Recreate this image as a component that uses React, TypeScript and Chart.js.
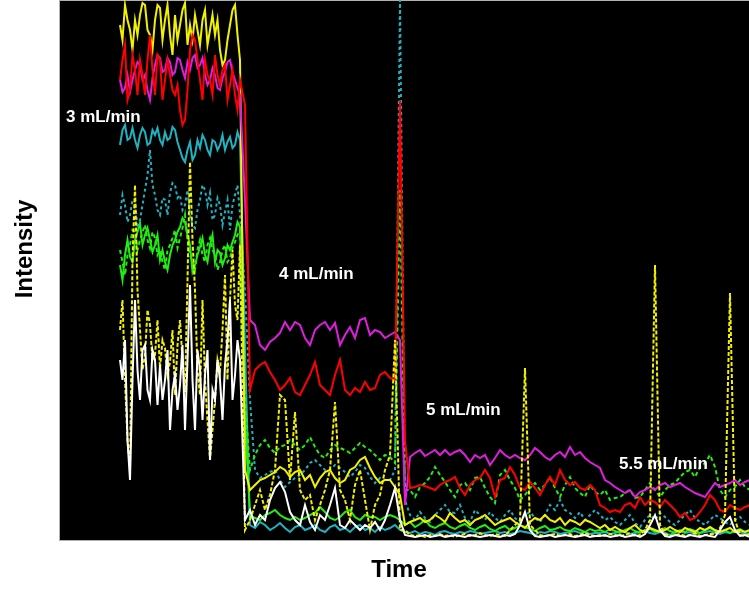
import React, { useEffect, useRef } from "react";
import { Chart, registerables } from "chart.js";

Chart.register(...registerables);

// Time axis (arbitrary units); the first period is sampled twice as finely
const time = [
  12, 12.5, 13, 13.5, 14, 14.5, 15, 15.5, 16, 16.5, 17, 17.5, 18, 18.5, 19, 19.5, 20, 20.5, 21, 21.5,
  22, 22.5, 23, 23.5, 24, 24.5, 25, 25.5, 26, 26.5, 27, 27.5, 28, 28.5, 29, 29.5, 30, 30.5, 31, 31.5,
  32, 32.5, 33, 33.5, 34, 34.5, 35, 35.5, 36,
  37, 38, 39, 40, 41, 42, 43, 44, 45, 46, 47, 48, 49, 50, 51,
  52, 53, 54, 55, 56, 57, 58, 59, 60, 61, 62, 63, 64, 65, 66, 67, 68, 69, 70, 71,
  72, 73, 74, 75, 76, 77, 78, 79, 80, 81, 82, 83, 84, 85, 86, 87, 88, 89, 90, 91,
  92, 93, 94, 95, 96, 97, 98, 99, 100, 101, 102, 103, 104, 105, 106, 107, 108, 109, 110, 111,
  112, 113, 114, 115, 116, 117, 118, 119, 120, 121, 122, 123, 124, 125, 126, 127, 128, 129, 130, 131,
  132, 133, 134, 135, 136, 137, 138,
];

// Intensity series (a.u.)
const yellowSolid = [
  515, 500, 535, 520, 510, 490, 520, 505, 525, 537, 535, 510, 505, 490, 520, 535, 532, 500, 520, 535, 505, 485, 525, 500, 515,
  530, 537, 495, 515, 500, 525, 510, 495, 520, 530, 495, 510, 525, 505, 520, 490, 475, 480, 500, 515, 530, 535, 505, 480,
  70,
  50, 55, 60, 62, 65, 68, 73, 70, 63, 68, 70, 60, 65, 53, 62, 68, 70, 62, 57, 60, 70, 73, 80, 83, 72, 63, 57, 60, 60, 53,
  45,
  15, 18, 20, 22, 18, 20, 25, 22, 18, 27, 22, 18, 20, 15, 20, 22, 25, 20, 15, 18, 20, 22, 18, 15, 12, 18, 22, 20, 25, 20, 18, 22, 15, 20, 18, 15, 20, 18, 15,
  12, 15, 10, 13, 10, 8, 12, 15, 10, 8, 12, 10, 8, 10, 13, 10, 8, 12, 10, 8, 12, 10, 13, 10, 8, 10, 12, 8, 10, 8, 10,
];

const red = [
  460, 480, 495, 440, 450, 485, 470, 445, 480, 465, 445, 480, 505, 470, 445, 485, 480, 440, 460, 480, 465, 450, 445, 455, 430,
  415, 420, 450, 490, 505, 500, 480, 460, 440, 480, 465, 460, 445, 485, 465, 455, 470, 475, 440, 455, 470, 445, 430, 460,
  435,
  150, 170, 175, 178, 168, 160, 150, 155, 162, 148, 145, 155, 165, 178, 155, 150, 145, 165, 180, 150, 145, 152, 148, 158, 150, 152, 165, 168, 162, 160,
  440,
  100, 52, 53, 55, 54, 52, 50, 55, 58, 60, 63, 52, 45, 55, 60, 62, 70, 62, 43, 60, 62, 73, 65, 52, 50, 58, 52, 45, 55, 63, 55, 70, 60, 55, 58, 52, 50, 55, 50,
  35, 32, 28, 30, 28, 35, 37, 32, 43, 35, 40, 38, 33, 40, 35, 30, 23, 27, 20, 22, 28, 35, 45, 40, 30, 28, 35, 32, 30, 33, 35,
];

const magenta = [
  460, 448, 452, 465, 448, 460, 470, 478, 475, 460, 465, 450, 440, 462, 475, 485, 482, 468, 470, 482, 478, 465, 468, 482, 480,
  470, 462, 478, 470, 482, 485, 472, 475, 482, 465, 455, 460, 472, 465, 452, 450, 462, 468, 478, 480, 468, 460, 452, 445,
  340,
  220, 215, 195, 190, 198, 202, 207, 218, 210, 218, 215, 202, 195, 210, 215, 218, 210, 217, 195, 205, 213, 202, 220, 222, 205, 210, 208, 202, 205, 208,
  200,
  35, 83, 87, 90, 84, 87, 90, 85, 90, 85, 88, 90, 85, 78, 85, 82, 85, 75, 82, 90, 85, 82, 85, 82, 80, 85, 92, 88, 83, 80, 85, 88, 83, 93, 85, 88, 82, 78, 75,
  72, 60, 57, 53, 50, 47, 50, 43, 48, 50, 53, 50, 55, 57, 53, 55, 57, 53, 50, 47, 45, 43, 50, 57, 53, 55, 57, 60, 55, 58, 60,
];

const cyanSolid = [
  395, 410, 415, 400, 402, 412, 400, 392, 405, 412, 408, 395, 397, 410, 405, 412, 400, 395, 408, 400, 402, 413, 410, 398, 390,
  382, 378, 390, 398, 380, 385, 400, 392, 405, 400, 390, 385, 400, 398, 390, 395, 405, 390, 398, 403, 392, 395, 408, 400,
  190,
  15, 12, 18, 15, 10, 13, 17, 12, 8, 13, 15, 10, 12, 15, 10, 8, 13, 15, 10, 12, 8, 13, 15, 10, 12, 8, 13, 10, 12, 15,
  10,
  8, 7, 9, 6, 8, 7, 5, 8, 9, 7, 6, 8, 7, 9, 8, 6, 7, 8, 9, 7, 8, 6, 7, 9, 8, 7, 5, 8, 7, 9, 8, 6, 7, 8, 9, 7, 8, 6, 7,
  7, 8, 6, 7, 9, 8, 6, 7, 8, 9, 7, 6, 8, 7, 5, 8, 9, 7, 8, 6, 7, 8, 9, 7, 6, 8, 7, 9, 8, 6, 7,
];

const cyanDashed = [
  325, 345, 335, 318, 325, 340, 340, 312, 320, 335, 350, 365, 390, 355, 345, 330, 325, 342, 340, 325, 347, 357, 355, 342, 345,
  330, 335, 350, 325, 315, 312, 330, 340, 355, 350, 335, 347, 320, 325, 342, 335, 315, 328, 340, 310, 335, 345, 355, 325,
  250,
  140, 70, 62, 65, 68, 70, 60, 53, 58, 62, 65, 70, 77, 80, 75, 70, 70, 75, 72, 68, 63, 68, 75, 72, 63, 57, 62, 60, 60, 70,
  540,
  40, 25, 20, 28, 22, 18, 25, 30, 35, 28, 27, 35, 22, 18, 30, 25, 20, 28, 22, 18, 25, 30, 22, 18, 25, 28, 22, 18, 25, 35, 30, 40, 30, 27, 22, 28, 20, 25, 30,
  25, 20, 23, 18, 15, 20, 25, 17, 13, 20, 25, 20, 27, 23, 18, 15, 20, 25, 30, 22, 18, 15, 20, 25, 22, 18, 15, 20, 23, 18, 15,
];

const greenSolid = [
  275, 260, 285, 300, 283, 278, 300, 308, 317, 295, 305, 312, 300, 288, 295, 305, 280, 290, 278, 270, 285, 295, 300, 308, 313,
  322, 318, 305, 295, 268, 275, 285, 293, 302, 285, 278, 295, 305, 278, 290, 287, 275, 282, 295, 290, 298, 305, 318, 313,
  120,
  25, 22, 20, 25, 27, 30, 25, 22, 20, 23, 20, 22, 25, 27, 33, 28, 22, 20, 23, 28, 30, 23, 20, 25, 23, 23, 20, 23, 25, 23,
  20,
  15, 18, 13, 16, 20, 14, 12, 15, 17, 13, 11, 14, 16, 12, 10, 13, 15, 11, 9, 12, 14, 10, 12, 15, 13, 11, 9, 12, 14, 10, 11, 13, 10, 9, 12, 10, 8, 11, 9,
  10, 8, 11, 9, 7, 10, 12, 9, 7, 10, 11, 8, 10, 12, 9, 7, 10, 8, 11, 9, 7, 10, 12, 9, 8, 10, 7, 9, 11, 8, 10,
];

const greenDashed = [
  290, 278, 265, 285, 295, 310, 308, 290, 300, 308, 315, 300, 292, 308, 302, 285, 290, 278, 270, 290, 295, 302, 310, 292, 302,
  312, 325, 300, 285, 278, 270, 290, 300, 285, 278, 295, 302, 290, 285, 270, 278, 290, 295, 278, 282, 292, 298, 305, 310,
  140,
  70, 85, 95, 100, 92, 87, 93, 95, 100, 95, 90, 95, 103, 93, 85, 82, 90, 95, 92, 90, 87, 92, 97, 93, 90, 85, 80, 85, 83, 77,
  350,
  50, 50, 43, 53, 57, 63, 73, 65, 58, 50, 43, 55, 57, 50, 62, 63, 52, 43, 37, 65, 70, 60, 52, 40, 45, 52, 57, 50, 55, 63, 52, 43, 55, 63, 52, 47, 43, 55, 48,
  45, 50, 40, 42, 43, 47, 50, 42, 43, 50, 57, 50, 43, 50, 55, 57, 63, 68, 70, 63, 73, 77, 85, 73, 50, 43, 50, 53, 60, 53, 50,
];

const yellowDashed = [
  210, 240, 160, 100, 70, 280, 355, 250, 210, 170, 185, 230, 215, 180, 185, 220, 172, 200, 192, 165, 178, 210, 145, 195, 220,
  180, 148, 260, 378, 300, 250, 170, 145, 240, 160, 120, 80, 110, 140, 180, 168, 210, 265, 160, 240, 290, 235, 220, 295,
  10,
  20, 35, 50, 30, 45, 70, 145, 140, 60, 128, 50, 40, 45, 20, 35, 50, 70, 138, 50, 40, 20, 55, 70, 40, 10, 35, 45, 70, 85, 200,
  10,
  10, 5, 4, 5, 3, 5, 4, 6, 4, 5, 3, 5, 6, 4, 5, 7, 5, 4, 6, 5, 4, 10, 15, 20, 172, 15, 10, 5, 4, 5, 6, 4, 5, 6, 4, 5, 7, 5, 4,
  5, 4, 6, 5, 4, 5, 7, 4, 5, 10, 20, 275, 15, 6, 4, 5, 6, 4, 5, 7, 4, 5, 6, 6, 12, 25, 247, 20, 5, 4, 6,
];

const white = [
  180, 160, 200, 100, 60, 160, 240, 170, 140, 190, 195, 150, 140, 190, 180, 135, 175, 140, 160, 190, 110, 150, 165, 130, 155,
  195, 110, 180, 255, 160, 110, 190, 170, 120, 165, 190, 80, 150, 140, 180, 160, 120, 175, 200, 240, 140, 165, 200, 180,
  20,
  30, 15, 25, 20, 40, 52, 58, 48, 28, 20, 15, 35, 18, 10, 25, 20, 35, 52, 15, 12, 20, 15, 10, 15, 12, 18, 10, 20, 35, 52,
  20,
  5, 4, 3, 4, 5, 3, 4, 5, 3, 4, 5, 4, 3, 5, 4, 3, 4, 5, 4, 3, 5, 4, 6, 15, 28, 10, 4, 3, 4, 5, 3, 4, 5, 4, 3, 4, 5, 3, 4,
  4, 5, 3, 4, 5, 3, 4, 5, 3, 6, 15, 25, 10, 4, 3, 5, 4, 3, 5, 4, 3, 5, 4, 3, 10, 18, 23, 10, 4, 5, 3,
];

const flowLabels = ["3 mL/min", "4 mL/min", "5 mL/min", "5.5 mL/min"];
const xTitle = "Time";
const yTitle = "Intensity";

const FONT = "'Liberation Sans', Arial, Helvetica, sans-serif";

function mk(label: string, vals: number[], color: string, dash: number[]) {
  return {
    label,
    data: time.map((t, i) => ({ x: t, y: vals[i] })),
    borderColor: color,
    backgroundColor: color,
    borderWidth: 2,
    borderDash: dash,
    pointRadius: 0,
    pointHoverRadius: 0,
    fill: false,
    tension: 0,
  };
}

const bgPlugin = {
  id: "blackBg",
  beforeDatasetsDraw(chart: any) {
    const { ctx, chartArea } = chart;
    ctx.save();
    ctx.fillStyle = "#000000";
    ctx.fillRect(chartArea.left, chartArea.top + 1, chartArea.right - chartArea.left, chartArea.bottom - chartArea.top - 1);
    ctx.strokeStyle = "#b0b0b0";
    ctx.lineWidth = 1;
    ctx.strokeRect(chartArea.left - 0.5, chartArea.top + 0.5, chartArea.right - chartArea.left + 1, chartArea.bottom - chartArea.top);
    ctx.restore();
  },
  afterDraw(chart: any) {
    const { ctx } = chart;
    ctx.save();
    ctx.fillStyle = "#ffffff";
    ctx.font = `bold 17px ${FONT}`;
    ctx.textBaseline = "alphabetic";
    ctx.textAlign = "left";
    ctx.fillText(flowLabels[0], 66, 122);
    ctx.fillText(flowLabels[1], 279, 279);
    ctx.fillText(flowLabels[2], 426, 415);
    ctx.fillText(flowLabels[3], 619, 469);

    ctx.fillStyle = "#000000";
    ctx.font = `bold 24px ${FONT}`;
    ctx.textAlign = "center";
    ctx.textBaseline = "middle";
    ctx.fillText(xTitle, 399, 570);
    ctx.translate(25, 249);
    ctx.rotate(-Math.PI / 2);
    ctx.fillText(yTitle, 0, 0);
    ctx.restore();
  },
};

export default function App() {
  const ref = useRef<HTMLCanvasElement | null>(null);

  useEffect(() => {
    if (!ref.current) return;
    const chart = new Chart(ref.current, {
      type: "line",
      data: {
        datasets: [
          mk("White", white, "#ffffff", []),
          mk("Yellow (dashed)", yellowDashed, "#f2f200", [4, 2]),
          mk("Red", red, "#ff0000", []),
          mk("Magenta", magenta, "#e01ee0", []),
          mk("Yellow", yellowSolid, "#f2f200", []),
          mk("Green (dashed)", greenDashed, "#22ee11", [4, 3]),
          mk("Cyan (dashed)", cyanDashed, "#1fb3c2", [3, 3]),
          mk("Green", greenSolid, "#22ee11", []),
          mk("Cyan", cyanSolid, "#1fb3c2", []),
        ] as any,
      },
      options: {
        responsive: false,
        animation: false,
        devicePixelRatio: 1,
        layout: { padding: { left: 60, right: 0, top: 0, bottom: 60 } },
        plugins: {
          legend: { display: false },
          tooltip: { enabled: false },
          title: { display: false },
        },
        events: [],
        scales: {
          x: { type: "linear", min: 0, max: 137.8, display: false },
          y: { type: "linear", min: 0, max: 540, display: false },
        },
      },
      plugins: [bgPlugin],
    });
    return () => chart.destroy();
  }, []);

  return (
    <div style={{ position: "absolute", left: 0, top: 0, width: 749, height: 600, background: "#ffffff" }}>
      <canvas ref={ref} width={749} height={600} style={{ display: "block" }} />
    </div>
  );
}
